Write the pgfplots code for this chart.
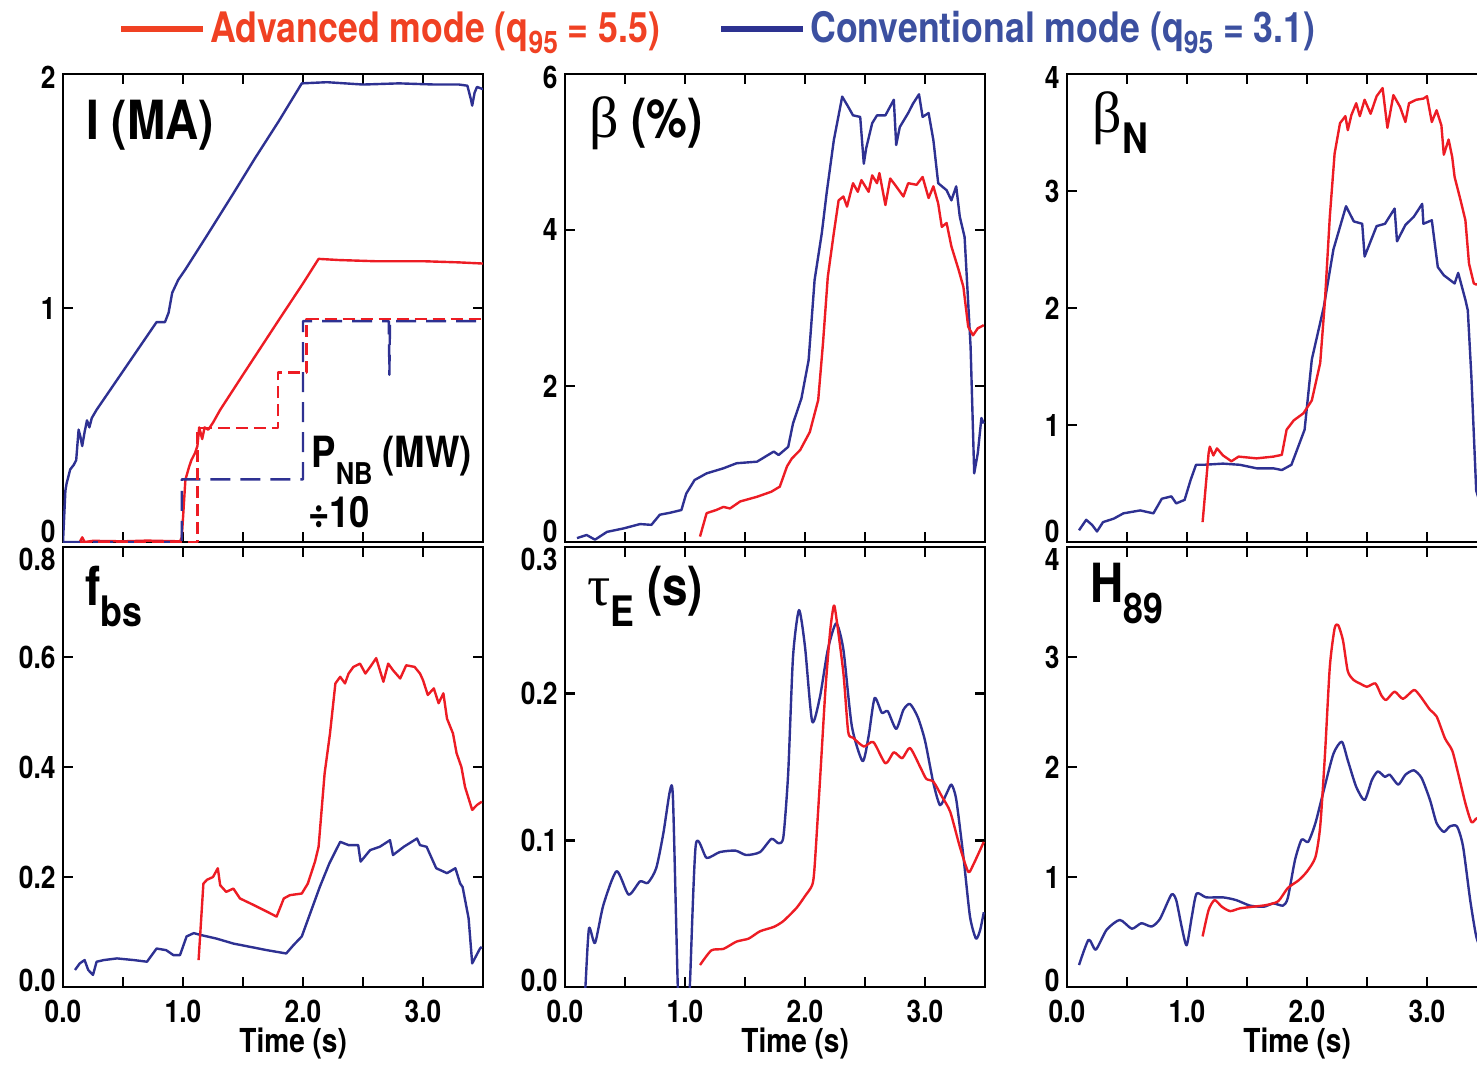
\documentclass[border=0pt]{standalone}
\usepackage{fontspec}
\setmainfont{TeX Gyre Heros}[FakeStretch=0.85]
\newfontfamily\grk{Liberation Serif}
\usepackage{pgfplots}
\pgfplotsset{compat=1.18}
\definecolor{pr}{RGB}{237,28,36}
\definecolor{pb}{RGB}{46,49,146}
\definecolor{lr}{RGB}{240,65,35}
\definecolor{lb}{RGB}{60,80,160}
\definecolor{lbl}{RGB}{45,50,145}
\newcommand{\tk}{\bfseries\fontsize{15.5}{15.5}\selectfont}
\newcommand{\lbf}{\bfseries\fontsize{16.5}{16.5}\selectfont}
\newcommand{\pl}{\bfseries\fontsize{27}{27}\selectfont}
\newcommand{\sub}[1]{\raisebox{-10.5pt}{\fontsize{21}{21}\selectfont #1}}
\newcommand{\lgfont}{\bfseries\fontsize{21}{21}\selectfont}
\newcommand{\lsub}[1]{\raisebox{-5.5pt}{\fontsize{15.5}{15.5}\selectfont #1}}
\pgfplotsset{
  panel/.style={scale only axis, width=210pt, xmin=0, xmax=3.5,
    xtick={0,1,2,3}, minor xtick={0.5,1.5,2.5},
    tick align=inside, major tick length=5pt, minor tick length=5pt,
    axis line style={line width=1.4pt, black},
    tick style={line width=1.4pt, black},
    tick label style={font=\tk},
    every axis plot/.append style={line join=round}},
  toprow/.style={panel, height=234pt, xticklabels={},
    yticklabel style={inner xsep=0pt, inner ysep=0pt, xshift=-3.5pt, yshift={ifthenelse(\ticknum==0,5.5,ifthenelse(\ticknum==#1,-1.5,0))}}},
  botrow/.style={panel, height=220pt, xticklabels={0.0,1.0,2.0,3.0},
    yticklabel style={inner xsep=0pt, inner ysep=0pt, xshift=-3.5pt, yshift={ifthenelse(\ticknum==0,3.5,ifthenelse(\ticknum==#1,-6,0))}},
    xticklabel style={anchor=base, yshift=-17.5pt},
    xlabel={Time (s)},
    xlabel style={font=\lbf, at={(axis description cs:0.548,0)}, anchor=base, yshift=-32.5pt}},
  rl/.style={pr, line width=1.2pt},
  bl/.style={pb, line width=1.2pt},
}
\begin{document}
\begin{tikzpicture}
\path[use as bounding box] (0,0) rectangle (738.5pt,-533.5pt);
% ---------- Panel 1: I (MA)
\begin{axis}[toprow=2, at={(31.5pt,-271pt)}, anchor=south west,
  ymin=0, ymax=2, ytick={0,1,2}, yticklabels={0,1,2},
  legend style={at={(axis description cs:0.131,1.097)}, anchor=west, draw=none, fill=none,
    legend columns=2, inner sep=0pt, font=\lgfont, nodes={inner ysep=0pt},
    /tikz/every even column/.append style={column sep=27pt}},
  legend image code/.code={\draw[#1] (0pt,0pt) -- (41pt,0pt);}]
\addlegendimage{lr, line width=3pt}
\addlegendentry{\textcolor{lr}{Advanced mode (q\lsub{95} = 5.5)}}
\addlegendimage{lbl, line width=3pt}
\addlegendentry{\textcolor{lb}{Conventional mode (q\lsub{95} = 3.1)}}
\addplot[bl, forget plot] coordinates {(0,0) (0.02,0.22) (0.03,0.25) (0.06,0.31) (0.09,0.33) (0.11,0.35) (0.13,0.48) (0.145,0.45) (0.16,0.41) (0.18,0.47) (0.20,0.52) (0.22,0.49) (0.24,0.53) (0.28,0.565) (0.5,0.73) (0.7,0.88) (0.78,0.94) (0.85,0.94) (0.88,0.98) (0.91,1.065) (0.96,1.12) (1.02,1.165) (1.2,1.31) (1.42,1.49) (1.6,1.64) (1.8,1.80) (1.99,1.96) (2.2,1.965) (2.5,1.955) (2.8,1.96) (3.1,1.955) (3.3,1.955) (3.37,1.95) (3.40,1.89) (3.41,1.865) (3.43,1.92) (3.45,1.945) (3.5,1.935)};
\addplot[rl, forget plot] coordinates {(0.14,0) (0.16,0.02) (0.18,0.0) (0.25,0.005) (0.5,0.003) (0.7,0.006) (0.975,0.003) (0.99,0.02) (1.02,0.266) (1.05,0.32) (1.07,0.35) (1.1,0.38) (1.12,0.41) (1.135,0.49) (1.16,0.44) (1.18,0.49) (1.21,0.48) (1.25,0.51) (1.31,0.565) (1.5,0.715) (1.8,0.95) (2.0,1.105) (2.13,1.21) (2.3,1.205) (2.6,1.20) (3.0,1.20) (3.3,1.195) (3.5,1.19)};
\addplot[pb, line width=1.2pt, dash pattern=on 10pt off 5pt, forget plot] coordinates {(0,0) (0.99,0) (0.99,0.268) (2.0,0.268) (2.0,0.944) (2.715,0.944) (2.72,0.715) (2.725,0.944) (3.5,0.944)};
\addplot[pr, line width=1.2pt, dash pattern=on 6pt off 3pt, forget plot] coordinates {(0.14,0) (1.12,0) (1.12,0.487) (1.79,0.487) (1.79,0.725) (2.03,0.725) (2.03,0.954) (3.5,0.954)};
\node[anchor=base west, inner sep=0pt, font=\pl] at (axis description cs:0.0548,0.861) {I (MA)};
\node[anchor=base west, inner sep=0pt, font=\bfseries\fontsize{21.5}{21.5}\selectfont] at (axis cs:2.067,0.317) {P\raisebox{-8.5pt}{\fontsize{15}{15}\selectfont NB} (MW)};
\node[anchor=base west, inner sep=0pt, font=\bfseries\fontsize{21.5}{21.5}\selectfont] at (axis cs:2.04,0.06) {÷10};
\end{axis}
% ---------- Panel 2: beta
\begin{axis}[toprow=3, at={(282.5pt,-271pt)}, anchor=south west,
  ymin=0, ymax=6, ytick={0,2,4,6}, yticklabels={0,2,4,6}]
\addplot[bl] coordinates {(0.10,0.05) (0.18,0.09) (0.25,0.03) (0.35,0.13) (0.49,0.175) (0.625,0.23) (0.72,0.22) (0.79,0.35) (0.875,0.375) (0.97,0.41) (1.01,0.62) (1.08,0.795) (1.18,0.88) (1.32,0.945) (1.43,1.01) (1.60,1.03) (1.74,1.16) (1.78,1.115) (1.86,1.22) (1.90,1.52) (1.97,1.84) (2.03,2.33) (2.08,3.36) (2.14,3.96) (2.18,4.47) (2.24,5.15) (2.31,5.71) (2.36,5.58) (2.40,5.47) (2.46,5.45) (2.49,4.85) (2.51,5.05) (2.56,5.37) (2.60,5.47) (2.67,5.47) (2.74,5.67) (2.76,5.09) (2.79,5.32) (2.86,5.50) (2.90,5.62) (2.95,5.74) (2.98,5.45) (3.03,5.50) (3.07,5.15) (3.11,4.60) (3.18,4.51) (3.22,4.38) (3.26,4.56) (3.29,4.17) (3.33,3.91) (3.38,2.50) (3.41,0.88) (3.44,1.14) (3.47,1.59) (3.49,1.52)};
\addplot[rl] coordinates {(1.125,0.07) (1.18,0.37) (1.26,0.41) (1.32,0.45) (1.375,0.43) (1.46,0.52) (1.60,0.58) (1.72,0.645) (1.79,0.71) (1.85,0.97) (1.89,1.07) (1.96,1.18) (2.04,1.41) (2.11,1.82) (2.15,2.55) (2.19,3.40) (2.24,3.96) (2.28,4.38) (2.32,4.43) (2.35,4.30) (2.40,4.60) (2.44,4.49) (2.47,4.64) (2.53,4.49) (2.56,4.70) (2.60,4.60) (2.62,4.73) (2.67,4.32) (2.71,4.66) (2.75,4.58) (2.82,4.43) (2.86,4.60) (2.93,4.58) (2.98,4.68) (3.03,4.41) (3.07,4.56) (3.11,4.34) (3.14,4.04) (3.18,4.09) (3.22,3.79) (3.28,3.49) (3.32,3.27) (3.36,2.76) (3.40,2.65) (3.44,2.74) (3.49,2.78)};
\node[anchor=base west, inner sep=0pt, font=\pl] at (axis description cs:0.057,0.865) {{\grk\mdseries\fontsize{29}{29}\selectfont β} (\%)};
\end{axis}
% ---------- Panel 3: beta_N
\begin{axis}[toprow=4, at={(533.5pt,-271pt)}, anchor=south west,
  ymin=0, ymax=4, ytick={0,1,2,3,4}, yticklabels={0,1,2,3,4}]
\addplot[bl] coordinates {(0.10,0.10) (0.16,0.19) (0.21,0.145) (0.25,0.09) (0.30,0.17) (0.39,0.20) (0.47,0.245) (0.61,0.27) (0.72,0.245) (0.79,0.37) (0.87,0.39) (0.91,0.33) (0.98,0.36) (1.03,0.53) (1.075,0.66) (1.14,0.66) (1.30,0.67) (1.44,0.66) (1.58,0.63) (1.72,0.63) (1.79,0.615) (1.87,0.66) (1.98,0.96) (2.04,1.56) (2.14,2.01) (2.22,2.50) (2.325,2.87) (2.39,2.74) (2.46,2.72) (2.48,2.44) (2.58,2.70) (2.65,2.72) (2.73,2.85) (2.75,2.57) (2.82,2.71) (2.89,2.78) (2.96,2.89) (2.97,2.72) (3.04,2.75) (3.09,2.35) (3.14,2.28) (3.23,2.21) (3.26,2.30) (3.32,2.07) (3.34,1.98) (3.37,1.41) (3.41,0.44) (3.45,0.30) (3.5,0.25)};
\addplot[rl] coordinates {(1.13,0.17) (1.18,0.76) (1.19,0.815) (1.22,0.74) (1.25,0.80) (1.30,0.74) (1.37,0.69) (1.43,0.73) (1.58,0.715) (1.72,0.73) (1.79,0.745) (1.83,0.96) (1.89,1.04) (1.97,1.10) (2.04,1.21) (2.11,1.53) (2.15,2.07) (2.19,2.78) (2.23,3.32) (2.275,3.58) (2.32,3.64) (2.34,3.52) (2.37,3.65) (2.41,3.75) (2.44,3.64) (2.48,3.78) (2.53,3.66) (2.58,3.81) (2.63,3.88) (2.67,3.54) (2.72,3.82) (2.775,3.72) (2.82,3.59) (2.85,3.75) (2.91,3.78) (2.97,3.79) (3.00,3.81) (3.04,3.59) (3.08,3.69) (3.12,3.56) (3.14,3.31) (3.18,3.44) (3.21,3.29) (3.23,3.12) (3.28,2.92) (3.32,2.75) (3.35,2.38) (3.39,2.21) (3.41,2.20) (3.45,2.22) (3.5,2.2)};
\node[anchor=base west, inner sep=0pt, font=\pl] at (axis description cs:0.06,0.876) {{\grk\mdseries\fontsize{29}{29}\selectfont β}\sub{N}};
\end{axis}
% ---------- Panel 4: f_bs
\begin{axis}[botrow=4, at={(31.5pt,-493.5pt)}, anchor=south west,
  ymin=0, ymax=0.8, ytick={0,0.2,0.4,0.6,0.8}, yticklabels={0.0,0.2,0.4,0.6,0.8}]
\addplot[bl] coordinates {(0.10,0.031) (0.14,0.043) (0.18,0.049) (0.21,0.031) (0.25,0.022) (0.28,0.046) (0.34,0.049) (0.45,0.052) (0.59,0.049) (0.70,0.046) (0.78,0.070) (0.86,0.067) (0.92,0.058) (0.975,0.058) (1.03,0.092) (1.09,0.098) (1.14,0.095) (1.28,0.088) (1.42,0.079) (1.56,0.073) (1.70,0.067) (1.86,0.061) (1.92,0.076) (1.99,0.092) (2.06,0.134) (2.14,0.182) (2.22,0.225) (2.31,0.264) (2.38,0.258) (2.46,0.258) (2.48,0.228) (2.56,0.249) (2.64,0.255) (2.725,0.267) (2.75,0.240) (2.84,0.255) (2.95,0.270) (2.975,0.258) (3.03,0.255) (3.11,0.216) (3.20,0.207) (3.27,0.216) (3.31,0.188) (3.33,0.182) (3.38,0.125) (3.41,0.043) (3.475,0.070) (3.49,0.073)};
\addplot[rl] coordinates {(1.13,0.049) (1.17,0.188) (1.20,0.195) (1.25,0.20) (1.29,0.216) (1.31,0.185) (1.36,0.173) (1.42,0.179) (1.475,0.161) (1.59,0.149) (1.70,0.137) (1.78,0.128) (1.84,0.161) (1.89,0.167) (1.99,0.170) (2.04,0.188) (2.10,0.228) (2.13,0.255) (2.18,0.388) (2.225,0.461) (2.27,0.552) (2.31,0.564) (2.35,0.552) (2.38,0.570) (2.42,0.582) (2.475,0.588) (2.52,0.570) (2.56,0.582) (2.61,0.598) (2.67,0.555) (2.71,0.588) (2.75,0.576) (2.81,0.561) (2.86,0.585) (2.93,0.582) (2.975,0.570) (3.00,0.558) (3.04,0.531) (3.09,0.543) (3.13,0.516) (3.17,0.534) (3.20,0.488) (3.25,0.461) (3.28,0.425) (3.32,0.400) (3.35,0.364) (3.41,0.322) (3.45,0.331) (3.49,0.337)};
\node[anchor=base west, inner sep=0pt, font=\pl] at (axis description cs:0.052,0.868) {f\sub{bs}};
\end{axis}
% ---------- Panel 5: tau_E
\begin{axis}[botrow=3, at={(282.5pt,-493.5pt)}, anchor=south west,
  ymin=0, ymax=0.3, ytick={0,0.1,0.2,0.3}, yticklabels={0.0,0.1,0.2,0.3}]
\addplot[bl, smooth, tension=0.4] coordinates {(0.16,-0.01) (0.17,0.0) (0.20,0.040) (0.25,0.030) (0.32,0.056) (0.43,0.079) (0.53,0.063) (0.625,0.072) (0.69,0.071) (0.76,0.081) (0.82,0.105) (0.875,0.134) (0.90,0.128) (0.94,0.0) (0.96,-0.02) (1.02,-0.02) (1.04,0.0) (1.09,0.097) (1.18,0.088) (1.29,0.092) (1.42,0.093) (1.51,0.090) (1.625,0.092) (1.72,0.101) (1.78,0.098) (1.82,0.1025) (1.86,0.146) (1.90,0.225) (1.95,0.257) (2.00,0.232) (2.06,0.181) (2.125,0.198) (2.19,0.230) (2.26,0.248) (2.32,0.230) (2.39,0.178) (2.48,0.154) (2.53,0.171) (2.58,0.197) (2.64,0.187) (2.69,0.188) (2.76,0.176) (2.82,0.189) (2.875,0.193) (2.94,0.184) (3.00,0.168) (3.07,0.139) (3.125,0.124) (3.18,0.132) (3.22,0.138) (3.26,0.128) (3.32,0.089) (3.375,0.048) (3.425,0.033) (3.46,0.039) (3.49,0.051)};
\addplot[rl, smooth, tension=0.4] coordinates {(1.125,0.015) (1.22,0.025) (1.32,0.026) (1.43,0.031) (1.53,0.033) (1.625,0.038) (1.74,0.041) (1.82,0.045) (1.93,0.054) (2.00,0.062) (2.06,0.0695) (2.08,0.082) (2.125,0.141) (2.17,0.2025) (2.21,0.243) (2.24,0.260) (2.26,0.2525) (2.32,0.214) (2.36,0.174) (2.40,0.170) (2.49,0.164) (2.57,0.167) (2.67,0.1525) (2.74,0.160) (2.81,0.156) (2.875,0.163) (2.96,0.150) (3.01,0.142) (3.07,0.140) (3.14,0.130) (3.21,0.1195) (3.29,0.0957) (3.36,0.0786) (3.40,0.083) (3.49,0.099)};
\node[anchor=base west, inner sep=0pt, font=\pl] at (axis description cs:0.052,0.868) {{\grk\mdseries\fontsize{29}{29}\selectfont τ}\sub{E} (s)};
\end{axis}
% ---------- Panel 6: H89
\begin{axis}[botrow=4, at={(533.5pt,-493.5pt)}, anchor=south west,
  ymin=0, ymax=4, ytick={0,1,2,3,4}, yticklabels={0,1,2,3,4}]
\addplot[bl, smooth, tension=0.4] coordinates {(0.10,0.20) (0.18,0.43) (0.24,0.34) (0.33,0.52) (0.44,0.61) (0.54,0.53) (0.62,0.58) (0.705,0.55) (0.775,0.62) (0.87,0.84) (0.91,0.79) (0.955,0.55) (0.997,0.38) (1.04,0.64) (1.08,0.85) (1.16,0.815) (1.30,0.815) (1.41,0.79) (1.525,0.74) (1.64,0.73) (1.72,0.76) (1.80,0.74) (1.84,0.81) (1.90,1.155) (1.955,1.34) (2.01,1.32) (2.07,1.49) (2.14,1.79) (2.22,2.12) (2.29,2.23) (2.34,2.06) (2.41,1.82) (2.48,1.70) (2.54,1.88) (2.59,1.96) (2.65,1.91) (2.69,1.93) (2.76,1.84) (2.82,1.93) (2.89,1.97) (2.955,1.90) (3.025,1.70) (3.08,1.49) (3.14,1.41) (3.19,1.46) (3.25,1.46) (3.30,1.28) (3.36,0.79) (3.41,0.46) (3.45,0.35) (3.5,0.3)};
\addplot[rl, smooth, tension=0.4] coordinates {(1.13,0.46) (1.18,0.70) (1.23,0.79) (1.29,0.73) (1.36,0.69) (1.44,0.715) (1.55,0.73) (1.66,0.745) (1.76,0.78) (1.84,0.90) (1.93,0.97) (2.00,1.05) (2.07,1.18) (2.11,1.46) (2.15,2.12) (2.19,2.91) (2.23,3.26) (2.26,3.29) (2.30,3.15) (2.34,2.87) (2.39,2.79) (2.44,2.76) (2.50,2.73) (2.57,2.76) (2.62,2.65) (2.66,2.61) (2.73,2.685) (2.80,2.62) (2.89,2.70) (2.94,2.65) (3.025,2.52) (3.08,2.46) (3.15,2.26) (3.21,2.15) (3.26,1.94) (3.32,1.67) (3.37,1.50) (3.41,1.53) (3.45,1.55) (3.5,1.55)};
\node[anchor=base west, inner sep=0pt, font=\pl] at (axis description cs:0.055,0.875) {H\sub{89}};
\end{axis}
\end{tikzpicture}
\end{document}
